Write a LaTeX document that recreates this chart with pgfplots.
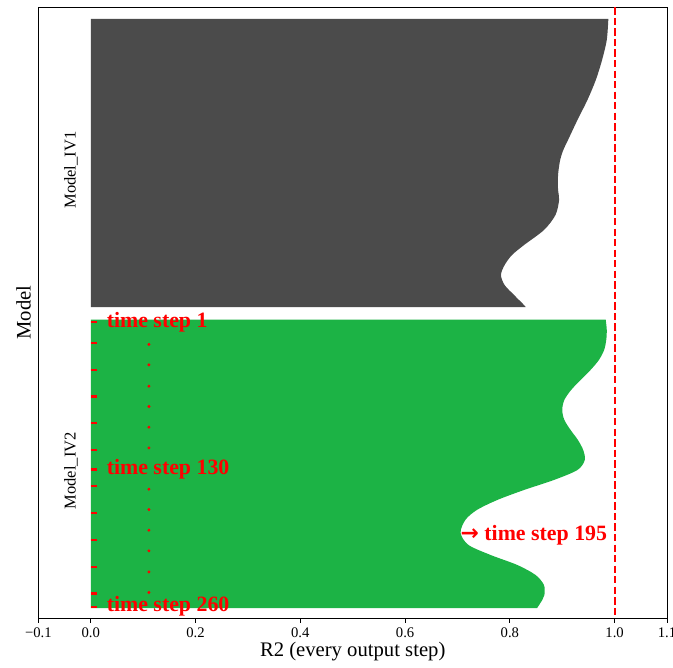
\documentclass[border=0pt]{standalone}
\usepackage{fontspec}
\setmainfont{Liberation Serif}
\newfontfamily\arrowfont{DejaVu Sans}
\usepackage{pgfplots}
\pgfplotsset{compat=1.18}

\definecolor{ivdark}{RGB}{75,75,75}
\definecolor{ivgreen}{RGB}{28,179,69}

\begin{document}
\begin{tikzpicture}
\begin{axis}[
  scale only axis,
  width=471.45pt, height=458pt,
  xmin=-0.1, xmax=1.1,
  ymin=0, ymax=550, y dir=reverse,
  clip=false,
  xtick={-0.1,0,0.2,0.4,0.6,0.8,1.0,1.1},
  xticklabels={{−0.1},{0.0},{0.2},{0.4},{0.6},{0.8},{1.0},{1.1}},
  ytick=\empty,
  xtick pos=bottom,
  tick align=outside,
  major tick length=3.7pt,
  tick style={black, line width=0.6pt},
  axis line style={black, line width=0.7pt},
  xticklabel style={font=\fontsize{11}{13}\selectfont},
  xlabel={R2 (every output step)},
  xlabel style={font=\fontsize{15.5}{18}\selectfont, at={(axis description cs:0.5,-0.0557)}, anchor=center},
  ylabel={Model},
  ylabel style={font=\fontsize{15.5}{18}\selectfont, at={(axis description cs:-0.0237,0.5)}, anchor=center},
]

% Model_IV1: R2 per output step (right edge), closed back along x = 0
\addplot[fill=ivdark, draw=none, smooth] coordinates {
  (0.988,10.5) (0.985,29.4) (0.976,47.5) (0.964,65.5) (0.948,83.5)
  (0.929,101.5) (0.911,119.5) (0.902,128.5) (0.896,137.5) (0.892,151.0)
  (0.892,164.5) (0.894,173.5) (0.887,187.1) (0.865,200.6) (0.827,214.1)
  (0.804,223.1) (0.790,232.1) (0.783,241.1) (0.790,250.1) (0.808,259.1)
  (0.827,268.1) (0.830,269.9)
} -- (axis cs:0,269.9) -- (axis cs:0,10.5) -- cycle;

% Model_IV2
\addplot[fill=ivgreen, draw=none, smooth] coordinates {
  (0.983,281.2) (0.985,290.6) (0.984,299.6) (0.980,308.6) (0.970,317.6)
  (0.954,326.6) (0.935,335.6) (0.917,344.6) (0.904,353.6) (0.900,362.6)
  (0.904,371.6) (0.916,380.7) (0.930,389.7) (0.940,398.7) (0.943,407.7)
  (0.929,416.7) (0.884,425.7) (0.827,434.7) (0.776,443.7) (0.737,452.7)
  (0.715,461.7) (0.706,473.4) (0.721,484.2) (0.763,493.2) (0.814,502.2)
  (0.849,511.2) (0.865,520.2) (0.866,529.2) (0.862,533.7) (0.852,541.0)
} -- (axis cs:0,541.0) -- (axis cs:0,281.2) -- cycle;

% step markers along Model_IV2
\addplot[only marks, red, mark=-, mark size=2.4pt, mark options={line width=1.9pt}] coordinates {
  (0.006,283.5) (0.006,302.4) (0.006,326.5) (0.006,350.5) (0.006,374.5)
  (0.006,398.6) (0.006,416.2) (0.006,431.3) (0.006,455.3) (0.006,479.9)
  (0.006,503.9) (0.006,527.9) (0.006,540.0)
};
\addplot[only marks, red, mark=*, mark size=0.9pt] coordinates {
  (0.111,303.6) (0.111,322.0) (0.111,341.2) (0.111,359.5) (0.111,378.1)
  (0.111,396.8) (0.111,434.0) (0.111,452.3) (0.111,470.9) (0.111,489.5)
  (0.111,508.5) (0.111,527.0)
};

% perfect score reference
\addplot[red, line width=1.5pt, dash pattern=on 5.5pt off 2.4pt] coordinates {(1,0) (1,550)};

% model names
\node[rotate=90, font=\fontsize{12.4}{14}\selectfont, anchor=center] at (axis cs:-0.038,146.6) {Model\_IV1};
\node[rotate=90, font=\fontsize{12.4}{14}\selectfont, anchor=center] at (axis cs:-0.038,417.3) {Model\_IV2};

% step annotations
\begin{scope}[every node/.style={red, inner sep=0pt, anchor=west, font=\fontsize{16.4}{19}\selectfont\bfseries}]
\node at (axis cs:0.030,283.4) {time step 1};
\node at (axis cs:0.030,415.8) {time step 130};
\node at (axis cs:0.030,539.8) {time step 260};
\node at (axis cs:0.7055,475.2) {{\arrowfont\fontsize{16.4}{19}\selectfont →}\hspace{0.25em}time step 195};
\end{scope}
\end{axis}
\pgfresetboundingbox
\path[use as bounding box] ([xshift=-28.8pt,yshift=-36.75pt]current axis.south west) rectangle ([xshift=4.5pt,yshift=5.5pt]current axis.north east);
\end{tikzpicture}
\end{document}
